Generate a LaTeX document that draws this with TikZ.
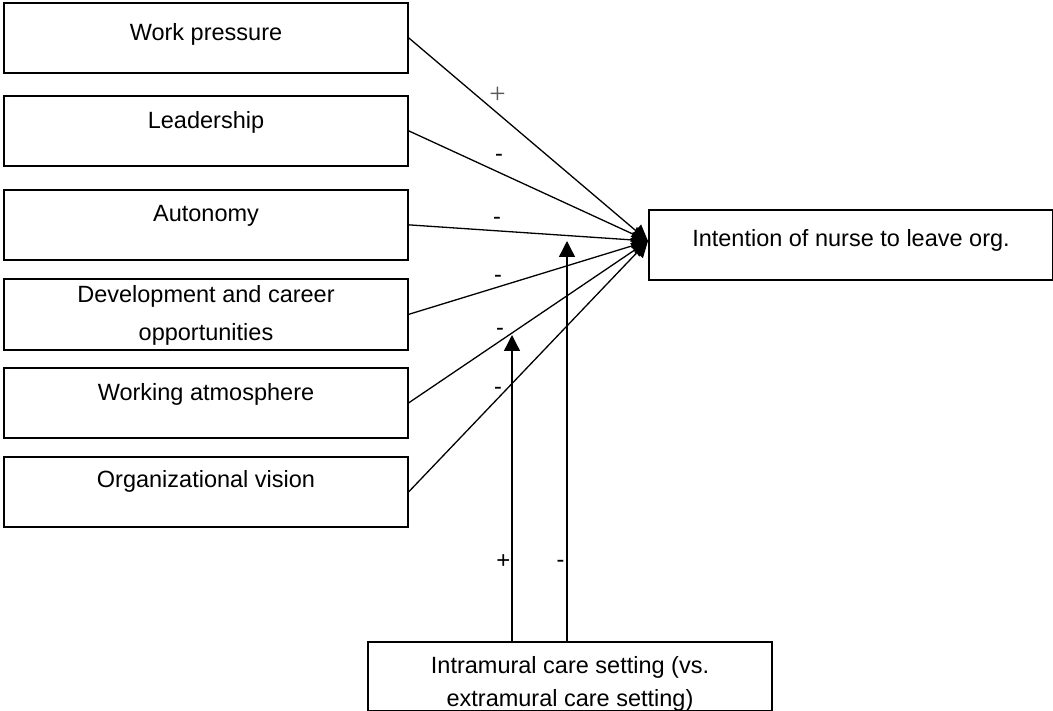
\documentclass[tikz,border=0pt]{standalone}
\usepackage{fontspec}
\setmainfont{Liberation Sans}
\newfontfamily\serifplus{Liberation Serif}
\usetikzlibrary{arrows.meta}
\begin{document}
\begin{tikzpicture}[x=1pt,y=-1pt,
  box/.style={draw,line width=1.7pt,minimum width=404pt,minimum height=70pt,inner sep=0pt,anchor=north west},
  txt/.style={font=\fontsize{23.5}{28}\selectfont,anchor=base,inner sep=0pt},
  conn/.style={line width=1.3pt,-{Triangle[length=16pt,width=16pt]}},
  sgn/.style={font=\fontsize{23.5}{28}\selectfont,anchor=base,inner sep=0pt}]
\useasboundingbox (0,0) rectangle (1053,711);

% left boxes
\node[box] (b1) at (3,2) {};
\node[box] (b2) at (3,95) {};
\node[box] (b3) at (3,189) {};
\node[box,minimum height=71pt] (b4) at (3,278) {};
\node[box] (b5) at (3,367) {};
\node[box] (b6) at (3,456) {};
% outcome and moderator boxes
\node[box] (io) at (648,209) {};
\node[box,minimum height=69pt] (bb) at (367,641) {};

% texts
\node[txt] (t1) at (206,40.5) {Work pressure};
\node[txt] (t2) at (206,128.5) {Leadership};
\node[txt] (t3) at (206,222) {Autonomy};
\node[txt] (t4a) at (206,302.7) {Development and career};
\node[txt] (t4b) at (206,340.7) {opportunities};
\node[txt] (t5) at (206,400.7) {Working atmosphere};
\node[txt] (t6) at (206,487.3) {Organizational vision};
\node[txt] (tio) at (851,246.7) {Intention of nurse to leave org.};
\node[txt] (tba) at (570,673.3) {Intramural care setting (vs.};
\node[txt] (tbb) at (570,706.7) {extramural care setting)};

% connectors
\coordinate (hub) at (648,241);
\draw[conn] (b1.east) -- (hub);
\draw[conn] (b2.east) -- (hub);
\draw[conn] (b3.east) -- (hub);
\draw[conn] (b4.east) -- (hub);
\draw[conn] (b5.east) -- (hub);
\draw[conn] (b6.east) -- (hub);

\coordinate (m1) at (512,335);
\coordinate (m2) at (567,241);
\draw[conn] (m1 |- bb.north) -- (m1);
\draw[conn] (m2 |- bb.north) -- (m2);

% signs
\node[sgn,text=black!65,font=\serifplus\fontsize{29}{32}\selectfont] (s1) at (497.5,104) {+};
\node[sgn] (s2) at (499,162) {-};
\node[sgn] (s3) at (497,225) {-};
\node[sgn] (s4) at (498,283) {-};
\node[sgn] (s5) at (500,336) {-};
\node[sgn] (s6) at (498,395) {-};
\node[sgn,font=\fontsize{24}{28}\selectfont] (s7) at (503.5,568) {+};
\node[sgn] (s8) at (560.5,567) {-};
\end{tikzpicture}
\end{document}
